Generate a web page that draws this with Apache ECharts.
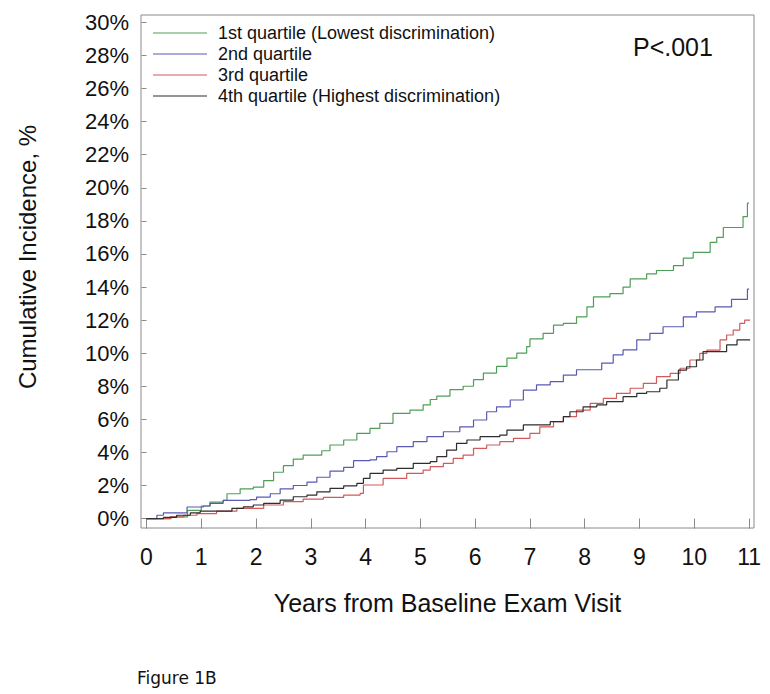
<!DOCTYPE html>
<html>
<head>
<meta charset="utf-8">
<script src="https://cdn.jsdelivr.net/npm/echarts@6/dist/echarts.min.js"></script>
<style>
html,body{margin:0;padding:0;background:#fff;}
#chart{width:770px;height:694px;}
</style>
</head>
<body>
<div id="chart"></div>
<script>
// ---- data (years, cumulative incidence %) ----
var seriesNames = [
  '1st quartile (Lowest discrimination)',
  '2nd quartile',
  '3rd quartile',
  '4th quartile (Highest discrimination)'
];
var q1 = [[0,0],[0.45,0.1],[0.75,0.5],[1.0,0.76],[1.16,1.0],[1.4,1.1],[1.47,1.5],[1.71,1.8],[1.95,1.9],[2.14,2.3],[2.32,2.8],[2.5,3.2],[2.68,3.6],[2.86,3.84],[3.2,4.1],[3.35,4.45],[3.6,4.75],[3.84,5.15],[4.08,5.45],[4.26,5.76],[4.5,6.36],[4.81,6.56],[5.05,6.87],[5.18,7.2],[5.3,7.4],[5.54,7.8],[5.78,8.0],[5.97,8.4],[6.15,8.8],[6.39,9.2],[6.58,9.7],[6.76,10.0],[6.94,10.4],[7.0,10.86],[7.24,11.2],[7.43,11.7],[7.61,11.8],[7.85,12.2],[8.04,12.8],[8.16,13.4],[8.46,13.6],[8.7,14.0],[8.83,14.5],[9.13,14.8],[9.31,15.0],[9.62,15.3],[9.8,15.75],[9.98,16.1],[10.29,16.7],[10.41,17.0],[10.53,17.6],[10.89,18.26],[10.97,19.07],[11.0,19.07]];
var q2 = [[0,0],[0.19,0.2],[0.31,0.35],[0.74,0.7],[1.04,0.76],[1.16,0.92],[1.4,1.1],[1.89,1.15],[2.01,1.3],[2.26,1.5],[2.44,1.8],[2.68,2.0],[2.93,2.2],[3.11,2.5],[3.35,2.87],[3.6,3.1],[3.78,3.5],[4.08,3.55],[4.2,3.74],[4.39,4.04],[4.57,4.35],[4.87,4.65],[5.12,4.95],[5.42,5.25],[5.72,5.55],[5.97,5.96],[6.21,6.46],[6.39,6.76],[6.64,7.17],[6.88,7.77],[7.12,8.08],[7.37,8.28],[7.61,8.68],[7.85,9.0],[8.31,9.4],[8.52,9.9],[8.7,10.2],[8.95,10.8],[9.19,11.2],[9.43,11.6],[9.8,12.2],[10.04,12.5],[10.38,12.8],[10.68,13.25],[10.97,13.87],[11.0,13.87]];
var q3 = [[0,0],[0.43,0.1],[0.68,0.2],[0.92,0.3],[1.28,0.45],[1.65,0.62],[2.14,0.82],[2.5,1.02],[2.86,1.17],[3.23,1.28],[3.6,1.42],[3.9,1.52],[3.96,2.03],[4.32,2.43],[4.75,2.73],[5.05,2.93],[5.18,3.14],[5.42,3.34],[5.6,3.64],[5.78,3.84],[5.97,4.25],[6.21,4.45],[6.45,4.65],[6.7,4.85],[7.0,5.15],[7.18,5.55],[7.43,5.86],[7.61,6.16],[7.85,6.56],[8.1,6.97],[8.34,7.27],[8.58,7.57],[8.83,7.88],[9.07,8.18],[9.31,8.58],[9.56,8.78],[9.74,9.09],[9.92,9.59],[10.1,9.99],[10.23,10.19],[10.47,10.8],[10.59,11.1],[10.71,11.4],[10.83,11.8],[10.92,12.0],[11.02,12.0]];
var q4 = [[0,0],[0.31,0.07],[0.55,0.2],[0.8,0.35],[0.98,0.45],[1.56,0.62],[1.77,0.71],[1.95,0.82],[2.14,0.92],[2.44,1.12],[2.68,1.32],[2.93,1.42],[3.11,1.62],[3.35,1.83],[3.6,1.98],[3.84,2.13],[3.96,2.43],[4.08,2.73],[4.32,2.93],[4.57,3.04],[4.87,3.34],[5.18,3.44],[5.3,3.74],[5.48,4.14],[5.66,4.55],[5.85,4.75],[6.09,4.95],[6.45,5.05],[6.58,5.35],[6.88,5.66],[7.37,5.86],[7.61,6.16],[7.73,6.46],[7.97,6.76],[8.22,6.87],[8.4,7.07],[8.7,7.37],[8.95,7.57],[9.13,7.67],[9.37,7.88],[9.5,8.38],[9.71,8.98],[9.86,9.18],[10.04,9.59],[10.16,10.09],[10.59,10.5],[10.78,10.8],[11.02,10.8]];
var seriesData = [q1, q2, q3, q4];
var seriesColors = ['#4f9e57', '#5a5ab4', '#d25a5a', '#2e2e2e'];
var xTicks = [0,1,2,3,4,5,6,7,8,9,10,11];
var yTicks = [0,2,4,6,8,10,12,14,16,18,20,22,24,26,28,30];
var xTitle = 'Years from Baseline Exam Visit';
var yTitle = 'Cumulative Incidence, %';
var pText = 'P<.001';
var figLabel = 'Figure 1B';

var font = '"Liberation Sans", Arial, Helvetica, sans-serif';
var chart = echarts.init(document.getElementById('chart'), null, {renderer: 'svg'});

var series = seriesNames.map(function (n, i) {
  return {
    name: n,
    type: 'line',
    step: 'end',
    symbol: 'none',
    animation: false,
    data: seriesData[i],
    lineStyle: {color: seriesColors[i], width: 1.2},
    itemStyle: {color: seriesColors[i]}
  };
});

chart.setOption({
  backgroundColor: '#fff',
  animation: false,
  grid: {
    left: 141, right: 16, top: 15, bottom: 166,
    show: true, borderColor: '#8a8a8a', borderWidth: 1, backgroundColor: 'transparent'
  },
  legend: {
    orient: 'vertical',
    left: 153, top: 24,
    padding: 0,
    itemWidth: 54, itemHeight: 14, itemGap: 3,
    icon: 'path://M0,7 L54,7 L54,8 L0,8 Z',
    textStyle: {fontFamily: font, fontSize: 18, color: '#111', lineHeight: 18, padding: [0,0,0,6]},
    data: seriesNames
  },
  xAxis: {
    type: 'value',
    min: -0.1, max: 11.09,
    axisLine: {show: false},
    splitLine: {show: false},
    axisTick: {show: true, length: 10, lineStyle: {color: '#8a8a8a'}, customValues: xTicks},
    axisLabel: {customValues: xTicks, margin: 17, fontFamily: font, fontSize: 23, color: '#111'},
    name: xTitle,
    nameLocation: 'middle',
    nameGap: 62,
    nameTextStyle: {fontFamily: font, fontSize: 25, color: '#111'}
  },
  yAxis: {
    type: 'value',
    min: -0.57, max: 30.45,
    axisLine: {show: false},
    splitLine: {show: false},
    axisTick: {show: true, length: 5, lineStyle: {color: '#8a8a8a'}, customValues: yTicks},
    axisLabel: {customValues: yTicks, margin: 12, fontFamily: font, fontSize: 22, color: '#111',
      formatter: function (v) { return v + '%'; }}
  },
  graphic: [
    {type: 'text', x: 27, y: 257, rotation: Math.PI / 2,
      style: {text: yTitle, font: '24px ' + font, fill: '#111', align: 'center', verticalAlign: 'middle'}},
    {type: 'text', x: 633, y: 47,
      style: {text: pText, font: '25px ' + font, fill: '#111', align: 'left', verticalAlign: 'middle'}},
    {type: 'text', x: 137, y: 678,
      style: {text: figLabel, font: '17px "DejaVu Sans", Verdana, sans-serif', fill: '#111', align: 'left', verticalAlign: 'middle'}}
  ],
  series: series
});
</script>
</body>
</html>
